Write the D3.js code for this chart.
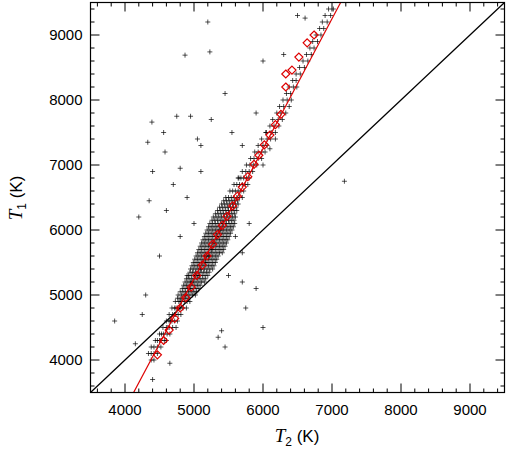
<!DOCTYPE html><html><head><meta charset="utf-8"><script src="https://cdn.jsdelivr.net/npm/d3@7"></script>
<style>body{margin:0;background:#fff}text{font-family:"Liberation Sans",Arial,sans-serif}</style></head><body>
<svg id="c" width="520" height="450"></svg>
<script>
const xTicks=[4000,5000,6000,7000,8000,9000];
const yTicks=[4000,5000,6000,7000,8000,9000];
// rows: T1 value : list of T2 values
const denseRows=`4000:4380,4420
4100:4380,4420,4470,4340
4200:4420,4470,4520,4380
4300:4470,4520,4570,4440,4600
4400:4500,4560,4610,4650,4530
4500:4550,4600,4640,4690,4740,4620
4600:4600,4640,4680,4720,4760,4660
4700:4640,4690,4730,4770,4810,4720
4800:4680,4720,4760,4800,4840,4890,4740
4900:4730,4780,4820,4860,4900,4940,4800
4950:4760,4800,4840,4880,4920
5000:4770,4820,4860,4900,4940,4980,5020,4880
5050:4800,4840,4880,4920,4960,5000,5040
5100:4830,4870,4910,4950,4990,5030,5070,4930
5150:4850,4890,4930,4970,5010,5050,5090
5200:4870,4910,4950,4990,5030,5070,5110,5150,4970
5250:4890,4930,4970,5010,5050,5090,5130,5170
5300:4920,4960,5000,5040,5080,5120,5160,5200,5020,5060
5350:4940,4980,5020,5060,5100,5140,5180,5220
5400:4950,4990,5030,5070,5110,5150,5190,5230,5270,5090
5450:4970,5010,5050,5090,5130,5170,5210,5250,5290
5500:4990,5030,5070,5110,5150,5190,5230,5270,5310,5130,5170
5550:5010,5050,5090,5130,5170,5210,5250,5290,5330
5600:5030,5070,5110,5150,5190,5230,5270,5310,5350,5180,5220
5650:5050,5090,5130,5170,5210,5250,5290,5330,5370,5410
5700:5070,5110,5150,5190,5230,5270,5310,5350,5390,5430,5250
5750:5090,5130,5170,5210,5250,5290,5330,5370,5410,5450
5800:5110,5150,5190,5230,5270,5310,5350,5390,5430,5470,5290
5850:5130,5170,5210,5250,5290,5330,5370,5410,5450,5490
5900:5150,5190,5230,5270,5310,5350,5390,5430,5470,5510,5330
5950:5170,5210,5250,5290,5330,5370,5410,5450,5490,5530
6000:5190,5230,5270,5310,5350,5390,5430,5470,5510,5550,5380
6050:5210,5250,5290,5330,5370,5410,5450,5490,5530,5570
6100:5230,5270,5310,5350,5390,5430,5470,5510,5550,5590,5420
6150:5260,5300,5340,5380,5420,5460,5500,5540,5580
6200:5280,5320,5360,5400,5440,5480,5520,5560,5600
6250:5310,5350,5390,5430,5470,5510,5550,5590
6300:5340,5380,5420,5460,5500,5540,5580,5620
6350:5370,5410,5450,5490,5530,5570,5610
6400:5400,5440,5480,5520,5560,5600,5640
6450:5430,5470,5510,5550,5590,5630
6500:5460,5500,5540,5580,5620,5660,5700
6600:5520,5560,5600,5640,5680,5720
6700:5580,5620,5660,5700,5740,5780
6800:5640,5680,5720,5760,5800
6900:5700,5750,5800,5850
7000:5760,5810,5860,5910
7100:5820,5870,5930,5980
7200:5880,5930,5980,6030
7300:5930,6000,6060
7400:5980,6060,6110,6180
7500:6040,6120,6180
7600:6100,6160,6230
7700:6140,6220,6280
7800:6200,6260,6330
7900:6240,6300,6380
8000:6290,6350,6410
8100:6340,6400
8200:6380,6440,6490
8300:6430,6480
8400:6480,6540
8500:6530,6600
8600:6580,6650
8700:6630,6700
8800:6680,6740
8900:6720,6790
9000:6770,6840
9100:6820,6880
9200:6860,6930
9300:6900,6980
9400:6950,7020`;
const outliers=[[6610,9260],[4870,8690],[5230,8740],[4390,7660],[4330,7350],[4560,7500],[4750,7750],[4950,7750],[5050,7400],[4580,7200],[4400,6900],[4350,6450],[4200,6200],[4600,6300],[4700,6700],[4800,6950],[5100,7300],[5250,7700],[5450,8100],[5550,7500],[5700,7300],[5900,7800],[6100,7250],[6300,8700],[6500,9300],[7180,6750],[5700,5200],[5750,4800],[5900,5100],[6000,4500],[5400,4450],[5350,4350],[5450,4200],[4500,5600],[4300,5000],[4250,4700],[3850,4600],[4650,3950],[4400,3700],[4150,4250],[4500,4300],[5100,6900],[4900,6500],[5200,9200],[6000,8600],[5700,5650],[5800,6100],[5650,6800],[6000,7000],[6050,7500],[5000,6100],[4800,5900],[4900,5300],[5600,5900],[5500,5300]];
const diamondT2=[4470,4560,4640,4720,4800,4880,4960,5040,5120,5190,5270,5340,5410,5480,5560,5630,5700,5780,5870,5940,6020,6100,6180,6260,6330,6330,6420,6520,6640,6740];
const diamondT1=[4080,4300,4460,4640,4800,4960,5120,5300,5460,5600,5780,5930,6070,6210,6370,6520,6660,6820,7010,7150,7310,7460,7620,7780,8200,8400,8460,8660,8880,9000];
const fitT2=[4125,7125];
const fitT1=[3500,9500];
const oneT=[3500,9500];

const pts=[];
denseRows.split("\n").forEach(r=>{const [a,b]=r.split(":");b.split(",").forEach(v=>pts.push([+v,+a]));});
outliers.forEach(p=>pts.push(p));

const L=90.5,R=504.5,T=2.5,B=392.5;
const x=d3.scaleLinear().domain([3500,9500]).range([L,R]);
const y=d3.scaleLinear().domain([3500,9500]).range([B,T]);
const svg=d3.select("#c");
svg.append("clipPath").attr("id","cp").append("rect").attr("x",L).attr("y",T).attr("width",R-L).attr("height",B-T);
const g=svg.append("g").attr("clip-path","url(#cp)");
g.append("line").attr("x1",x(oneT[0])).attr("y1",y(oneT[0])).attr("x2",x(oneT[1])).attr("y2",y(oneT[1])).attr("stroke","#000").attr("stroke-width",1.3);
const s=2.5;
g.selectAll("path.p").data(pts).join("path").attr("d",d=>`M${x(d[0])-s},${y(d[1])}h${2*s}M${x(d[0])},${y(d[1])-s}v${2*s}`).attr("stroke","#000").attr("stroke-width",0.8).attr("stroke-opacity",0.85);
g.append("line").attr("x1",x(fitT2[0])).attr("y1",y(fitT1[0])).attr("x2",x(fitT2[1])).attr("y2",y(fitT1[1])).attr("stroke","#d00").attr("stroke-width",1.2);
g.selectAll("path.d").data(diamondT2).join("path").attr("d",(d,i)=>{const cx=x(d),cy=y(diamondT1[i]);return `M${cx},${cy-4}L${cx+4},${cy}L${cx},${cy+4}L${cx-4},${cy}Z`}).attr("fill","none").attr("stroke","#d00").attr("stroke-width",1.2);
svg.append("rect").attr("x",L).attr("y",T).attr("width",R-L).attr("height",B-T).attr("fill","none").attr("stroke","#000").attr("stroke-width",1.2);
const minor=d3.range(3600,9500,200);
const ax=svg.append("g").attr("stroke","#000").attr("stroke-width",1);
minor.forEach(v=>{const maj=v%1000===0,l=maj?9:4;
 ax.append("line").attr("x1",x(v)).attr("x2",x(v)).attr("y1",B).attr("y2",B-l);
 ax.append("line").attr("x1",x(v)).attr("x2",x(v)).attr("y1",T).attr("y2",T+l);
 ax.append("line").attr("y1",y(v)).attr("y2",y(v)).attr("x1",L).attr("x2",L+l);
 ax.append("line").attr("y1",y(v)).attr("y2",y(v)).attr("x1",R).attr("x2",R-l);});
xTicks.forEach(v=>svg.append("text").attr("x",x(v)).attr("y",B+22).attr("text-anchor","middle").attr("font-size",15).text(v));
yTicks.forEach(v=>svg.append("text").attr("x",L-8).attr("y",y(v)+5).attr("text-anchor","end").attr("font-size",15).text(v));
const xl=svg.append("text").attr("x",297).attr("y",442).attr("text-anchor","middle").attr("font-size",17);
xl.append("tspan").attr("font-style","italic").attr("font-family","Liberation Serif").attr("font-size",19).text("T");
xl.append("tspan").attr("font-size",12).attr("dy",4).text("2");
xl.append("tspan").attr("dy",-4).text(" (K)");
const yl=svg.append("text").attr("transform","translate(22,198) rotate(-90)").attr("text-anchor","middle").attr("font-size",17);
yl.append("tspan").attr("font-style","italic").attr("font-family","Liberation Serif").attr("font-size",19).text("T");
yl.append("tspan").attr("font-size",12).attr("dy",4).text("1");
yl.append("tspan").attr("dy",-4).text(" (K)");
</script></body></html>
